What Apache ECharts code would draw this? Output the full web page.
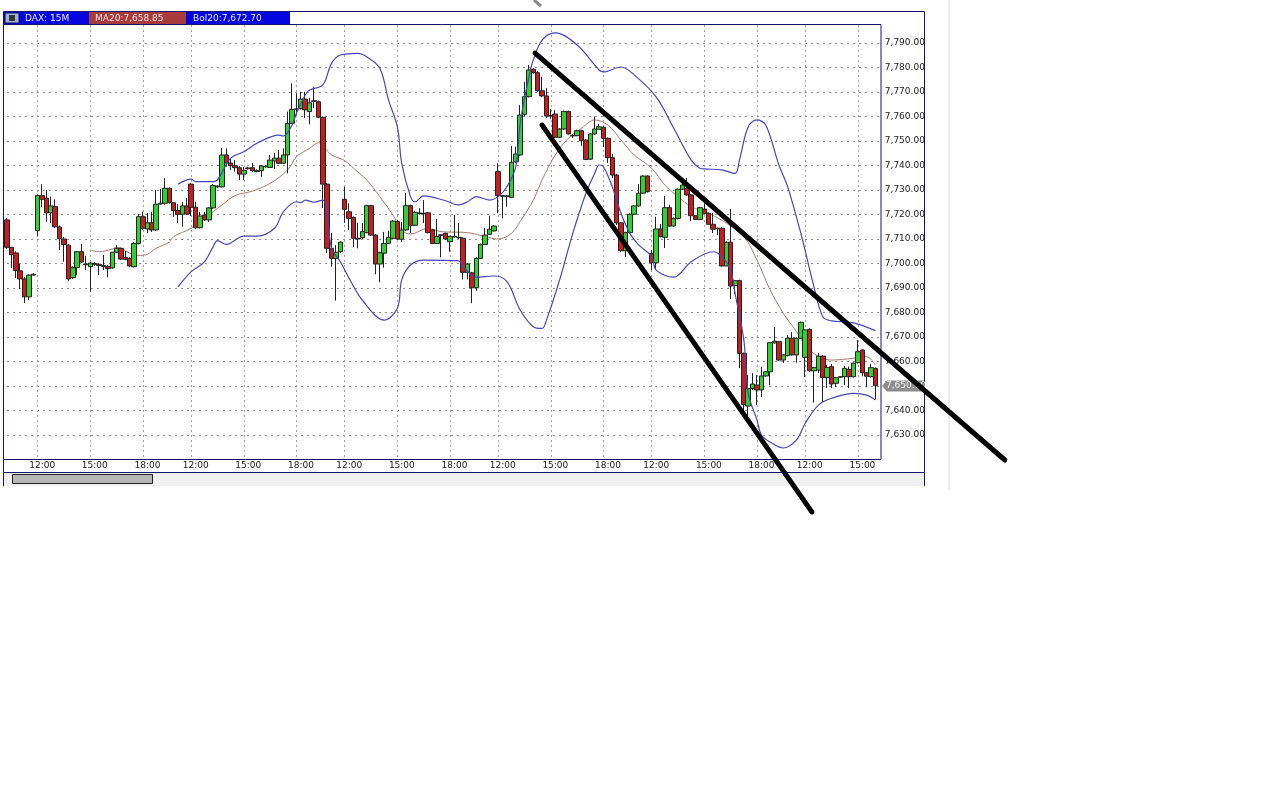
<!DOCTYPE html>
<html><head><meta charset="utf-8">
<style>html,body{margin:0;padding:0;background:#fff}#c{width:1281px;height:809px}</style>
<script src="https://cdn.jsdelivr.net/npm/echarts@6/dist/echarts.min.js"></script>
</head><body><div id="c"></div>
<script>
const opens=[7717.8,7706.6,7704.3,7697,7693.7,7686.4,7695.3,7713.4,7727.7,7726.7,7720.7,7723.2,7714.9,7710,7707.5,7694.2,7698.3,7704.8,7699.8,7698.7,
7700,7699.7,7699.2,7698.7,7698.2,7704.6,7706.2,7702.5,7702.1,7698.7,7708.2,7719.1,7714.1,7716.6,7713.7,7724.3,7724.6,7730.7,7724.8,7721.6,
7720.1,7723.5,7732.4,7723,7714.6,7719.8,7717.8,7722.7,7731.6,7731.3,7744.3,7741,7739.9,7739.1,7736.5,7739,7739.1,7737.9,7737.9,7739.5,
7739.2,7741.9,7743,7740.9,7744.3,7757.2,7763,7763.3,7767.1,7762,7766.4,7766,7759.7,7732.4,7706.2,7702.1,7704.8,7726.2,7721.1,7718.8,
7710.3,7710.5,7712.6,7723.6,7711.6,7699.8,7704.2,7708.2,7710.3,7717.1,7709.9,7713.7,7723.6,7715.6,7720.6,7720.5,7720.7,7713.7,7708.2,7711.5,
7712.3,7708.9,7711.1,7710.7,7710.3,7696.4,7696.2,7690.1,7702.1,7707.8,7711.9,7713.3,7737.5,7727.7,7727.6,7727,7741.5,7744.3,7760.9,7768.1,
7779.3,7777.9,7770.5,7768.4,7760.4,7761,7751.5,7754.9,7762,7752.3,7752.2,7754.2,7750.4,7742.6,7752.9,7754.8,7755.6,7751.1,7743.2,7736.1,
7716.6,7705.2,7712.6,7720.1,7723.5,7728.7,7735.7,7704.1,7700.3,7714.1,7710.7,7722.8,7715.3,7718.4,7730.3,7730.7,7728,7719.5,7718,7722.2,
7720.5,7716,7714.4,7714.4,7699,7708.7,7691,7693,7663.3,7641.8,7649,7650.4,7648.4,7654.1,7655.8,7667.6,7668.1,7660.6,7662.4,7669.5,
7662.7,7669.5,7661.7,7673.1,7656.2,7656.5,7662.2,7653.5,7657.9,7651.1,7653.6,7653.8,7656.8,7653.8,7659.5,7664.7,7655.4,7653.8,7657.2];
const closes=[7706.6,7703.6,7697.1,7693.7,7686.4,7695.3,7695.6,7727.7,7726.2,7720.7,7723.5,7715,7710.1,7707.7,7693.7,7698.3,7704.8,7700.6,7699.5,7700.2,
7699.7,7699.2,7698.7,7697.9,7704.6,7706.2,7701.8,7701.7,7699,7708.2,7719.1,7714.4,7716.6,7713.7,7724.2,7724.6,7730.7,7724.8,7721.6,7720.1,
7723.5,7720.2,7722.9,7714.6,7719.4,7717.8,7722.7,7731.8,7731.3,7744.3,7741,7739.9,7739.1,7736.5,7738,7738.7,7737.9,7737.6,7739.8,7739.7,
7742.2,7743,7740.9,7744.3,7757.2,7762.9,7763.1,7767.1,7762.7,7765.6,7766.2,7759.7,7732.4,7706.2,7702.1,7704.6,7708.7,7722.1,7718.4,7710.3,
7710,7713,7723.6,7711.6,7699.8,7704.4,7708.2,7710.7,7717.3,7710,7713.7,7723.6,7715.4,7720.9,7720.4,7720.3,7712.6,7708.2,7711,7711.7,
7710,7711,7710.9,7710.5,7696.4,7699.8,7690.1,7702.1,7707.8,7711.6,7714,7715.3,7727.7,7727.5,7727.4,7741.3,7744.7,7760.6,7768.1,7779,
7777.9,7770.5,7768.4,7760.2,7760.2,7751.5,7754.9,7762,7752.9,7752.1,7754.2,7750.1,7742.5,7752.9,7754.9,7755.8,7751.1,7743.2,7736.1,7716.6,
7705.2,7712.6,7720.1,7723.5,7728.7,7735.7,7729.3,7700.3,7714.1,7711,7722.8,7715.3,7718.4,7730.3,7732,7728,7719.5,7718,7722.8,7720.5,
7716,7714,7714.2,7699,7708.7,7690.8,7693,7663.3,7642.5,7649,7650.8,7648.4,7654.1,7655.8,7667.7,7668.3,7660.6,7662.7,7669.5,7662.7,
7669.5,7676,7672.9,7656.2,7657.5,7662.2,7653.5,7657.6,7650.8,7653.4,7653.8,7657.2,7653.8,7659.3,7664,7655.4,7654,7657.5,7650.1];
const lows=[7706,7698.2,7694.1,7689.6,7683.9,7685.1,7695,7711.2,7723,7717,7716.5,7714.5,7705.5,7700.7,7692.9,7693.7,7695.3,7700.2,7697.3,7688.5,
7699,7695.3,7697.3,7694.4,7697.9,7704.3,7701.4,7701.3,7698.5,7698.4,7707.8,7713.7,7712.4,7712.9,7713.2,7724.1,7724,7724.5,7719.1,7716.6,
7715,7719.8,7719.4,7714,7714.3,7717.3,7717,7722.3,7730.8,7731,7739.5,7738.2,7737.5,7734.1,7734.1,7738.3,7737.3,7737.3,7735.4,7739.1,
7739,7738.6,7740.6,7740.6,7736.8,7757,7760.6,7762.8,7759.4,7756.8,7763.5,7759.3,7722.6,7704.3,7698.7,7684.8,7704.3,7716.6,7713.7,7706.8,
7706.2,7710,7712.3,7711.2,7695.6,7692.3,7698.3,7708,7710,7709.7,7708.8,7713.2,7712.4,7715.3,7720,7716.5,7712.2,7707.9,7708,7702.5,
7709.7,7704.8,7710.5,7710,7693.5,7693.5,7683.8,7688.9,7701.8,7707.5,7711.6,7713,7720.5,7718.4,7723.2,7726.7,7741,7744,7760,7767.8,
7777.5,7770.1,7768,7759.4,7759,7751.2,7751.2,7754.6,7752.6,7751.2,7751.9,7748,7742.2,7742.2,7752.6,7754.6,7747.6,7741,7734.9,7715.7,
7704.7,7702.6,7712.3,7719.8,7723,7728.4,7729,7697.3,7697.8,7710.7,7706.3,7715,7715,7718,7730,7727.7,7717.3,7717.7,7717.7,7720.2,
7715.7,7712.4,7711.6,7698.7,7698.9,7685.5,7687.5,7657.3,7637.8,7637.3,7648.4,7642.2,7645.5,7653.8,7650.4,7667.3,7660.2,7659.4,7662.1,7662.4,
7659.5,7669.2,7653.7,7655.7,7643.2,7655.3,7643.5,7649.2,7649.2,7649.6,7653.4,7650.4,7649.2,7653.5,7659.2,7654,7649.6,7653.5,7644.5];
const highs=[7718.5,7706.6,7705,7699.8,7694.5,7695.5,7696,7728.2,7732.4,7730,7727.3,7726.2,7715.5,7710.8,7708,7698.8,7705.1,7708,7703.1,7700.6,
7700.6,7700,7703.5,7699.4,7704.7,7707.5,7706.5,7705.1,7702.5,7708.8,7720.2,7721.1,7720.6,7721.1,7730,7730.4,7734.8,7731,7725,7724.3,
7725.1,7726.7,7732.8,7725.2,7721,7721.1,7723,7732.4,7731.9,7747.1,7747,7742.8,7742.2,7739.8,7739.4,7739.5,7741,7738.4,7740.2,7740.2,
7744.3,7745.1,7746.3,7747,7762,7773.5,7769.5,7770.1,7770.1,7767.6,7772.2,7766.5,7760,7732.8,7712.5,7707.5,7709,7731.3,7724.6,7719.2,
7716.6,7716.6,7724,7724,7712,7704.8,7712.9,7713.4,7717.8,7717.8,7717,7728.8,7724,7721.5,7722.6,7725.9,7721,7714,7718.2,7712,
7712.6,7711.3,7719.8,7716.6,7710.7,7700.2,7696.6,7702.5,7708.1,7714.5,7719.5,7715.6,7740.9,7728,7727.9,7748,7747.7,7764.7,7774.2,7781,
7779.7,7778.6,7776.2,7771.6,7763.1,7762.6,7755.2,7762.4,7762.4,7752.9,7754.6,7754.6,7750.8,7753.2,7760,7757,7756,7751.5,7744.7,7736.5,
7717,7713,7720.5,7723.8,7732.4,7736,7736,7705.5,7719.1,7716.1,7727.6,7723.9,7718.8,7730.6,7734.8,7734.9,7728.3,7719.8,7723.1,7724.6,
7720.8,7720.6,7714.7,7714.8,7709,7722.2,7693.3,7693.4,7663.7,7654.5,7655.3,7654.5,7657.9,7656.1,7668,7674,7668.4,7663,7670.8,7672,
7669.8,7676.3,7673,7673.5,7657.8,7663.4,7662.5,7658.6,7659,7653.7,7654.1,7658.2,7657.9,7659.6,7668.8,7665,7655.7,7659,7657.6];

const maIdx=[19,21,24,25,26,28,30,32,34,37,38,40,42,47,49,52,56,60,64,66,69,71,74,77,79,82,85,88,90,92,96,99,105,109,112,115,117,120,122,125,128,131,134,137,140,143,147,150,153,156,160,164,168,171,174,177,180,182,185,188,193,196,198];
const maVals=[7705.5,7704.8,7705.9,7706.6,7706.2,7704.2,7703.3,7703.8,7706.2,7708.7,7711,7712.7,7714.4,7721.1,7723.9,7727.7,7729.6,7732.7,7738.2,7743.6,7747,7749.3,7744.3,7742,7738.9,7734.1,7727.3,7719.8,7713.7,7712,7714.4,7713,7712.6,7711,7710,7712.3,7717.1,7725.9,7734.1,7744.3,7751.1,7755.2,7758.6,7756.5,7750.4,7744.3,7738.9,7732,7727.3,7723.2,7720.5,7716.5,7711,7701.4,7689.2,7679.7,7672.2,7666.7,7662,7660.6,7661.3,7662,7658.6];
const upperIdx=[39,42,43,47,48,51,54,57,62,63,65,66,68,69,72,74,76,80,82,85,87,89,90,92,93,95,100,103,105,107,110,112,114,116,117,119,120,122,125,130,135,136,140,143,148,152,156,158,159,163,166,167,169,171,173,176,178,181,184,186,188,193,198];
const upperVals=[7732.4,7734.4,7733.4,7733.4,7734.1,7743,7745.6,7749.1,7752.4,7752,7756.5,7761.4,7768.8,7770.8,7772.9,7781.7,7785.1,7785.8,7784.4,7779.7,7766.7,7755.8,7740.9,7727.3,7725.2,7727.6,7725.6,7723.9,7725.2,7727.3,7725.9,7727.3,7731.3,7739.5,7757.2,7776.3,7783.1,7791.2,7794.1,7789.2,7779,7778.2,7780.2,7777,7768,7755.3,7742.2,7738.9,7738.6,7738.2,7736.8,7742.2,7755.8,7758.6,7756.5,7740.2,7731.3,7712.3,7690.5,7678.3,7676.6,7675.8,7672.6];
const lowerIdx=[39,42,45,47,48,50,54,57,61,63,66,67,68,70,72,73,74,76,78,81,86,89,90,92,95,103,104,107,111,114,117,120,122,123,126,129,132,134,135,136,138,140,142,144,147,148,152,156,161,163,165,166,168,169,171,172,174,177,180,182,185,188,193,196,198];
const lowerVals=[7690.5,7696.7,7700.7,7706.9,7709.3,7707.8,7711.2,7711.2,7714.4,7721.1,7725.2,7724.8,7725.9,7725,7725.9,7720.5,7706.2,7700.7,7694,7685.1,7676.9,7681.7,7693.3,7699.4,7701.4,7701.1,7698.7,7694.4,7694.9,7692.6,7681,7674.2,7673.5,7676.9,7693.3,7712.3,7728.7,7736.8,7740.2,7739.5,7731.3,7720.5,7712.3,7707.6,7702.8,7697.3,7694.4,7700.7,7704.8,7702.8,7697.3,7687.8,7668.8,7647,7636.1,7630,7627.1,7624.7,7628,7634.8,7642.2,7645,7647,7646.3,7644.3];

const xTickIdx=[7,19,31,42,54,66,77,89,101,112,124,136,147,159,171,182,194];
const xTickLabels=["12:00","15:00","18:00","12:00","15:00","18:00","12:00","15:00","18:00","12:00","15:00","18:00","12:00","15:00","18:00","12:00","15:00"];
const trendUpperIdx=[120.4,227.5], trendUpperPrice=[7785.9,7619.8];
const trendLowerIdx=[122,183.5],  trendLowerPrice=[7756.5,7598.6];
const headerTexts=["DAX: 15M","MA20:7,658.85","Bol20:7,672.70"];
const lastPriceText="7,650.10";

const COUNT=200;
const categories=Array.from({length:COUNT},(_,i)=>{const k=xTickIdx.indexOf(i);return k>=0?xTickLabels[k]:'';});
const ohlc=opens.map((o,i)=>[o,closes[i],lows[i],highs[i]]);
const zip=(a,b)=>a.map((v,i)=>[v,b[i]]);
const NAVY='#14146e', FONT='"DejaVu Sans"';
const isTick=(i)=>xTickIdx.includes(i);
const rect=(x,y,w,h,fill,stroke,z)=>({type:'rect',shape:{x,y,width:w,height:h},style:{fill:fill||'none',stroke:stroke||null,lineWidth:1},silent:true,z:z||0});
const seg=(x1,y1,x2,y2,c)=>({type:'line',shape:{x1,y1,x2,y2},style:{stroke:c,lineWidth:1},silent:true});
const txt=(x,y,t,fill,size)=>({type:'text',x,y,style:{text:t,fill,font:`${size||10}px ${FONT}`,textVerticalAlign:'middle'},silent:true,z:2});

const chart=echarts.init(document.getElementById('c'),null,{renderer:'canvas'});
chart.setOption({
 animation:false,backgroundColor:'#fff',
 grid:[{left:7,top:25,width:872.8,height:434.5,containLabel:false},{left:0,top:0,width:1281,height:809}],
 xAxis:[{type:'category',data:categories,boundaryGap:false,gridIndex:0,
   axisLine:{show:false},axisTick:{show:false},
   axisLabel:{interval:(i)=>isTick(i),margin:2,fontFamily:FONT,fontSize:9,color:'#222',padding:[0,0,0,9],hideOverlap:false},
   splitLine:{show:true,interval:(i)=>isTick(i),lineStyle:{color:'#a0a0a0',width:1,type:[2,3]}}},
  {type:'value',gridIndex:1,show:false,min:-1.596,max:290.47}],
 yAxis:[{type:'value',position:'right',gridIndex:0,min:7620,max:7797.35,interval:10,scale:true,
   axisLine:{show:false},axisTick:{show:false},
   axisLabel:{showMinLabel:false,showMaxLabel:false,margin:5,fontFamily:FONT,fontSize:9,color:'#222',padding:[2,0,0,0],
     formatter:(v)=>v.toLocaleString('en-US',{minimumFractionDigits:2,maximumFractionDigits:2})},
   splitLine:{show:true,showMinLine:false,showMaxLine:false,lineStyle:{color:'#909090',width:1,type:[2,4]}}},
  {type:'value',gridIndex:1,show:false,min:7477.35,max:7807.55}],
 series:[
  {name:'MA20',type:'line',xAxisIndex:0,yAxisIndex:0,data:zip(maIdx,maVals),showSymbol:false,smooth:0.35,lineStyle:{color:'#a87870',width:1},z:2,silent:true},
  {name:'BolUpper',type:'line',xAxisIndex:0,yAxisIndex:0,data:zip(upperIdx,upperVals),showSymbol:false,smooth:0.35,lineStyle:{color:'#4646bc',width:1.2},z:4,silent:true},
  {name:'BolLower',type:'line',xAxisIndex:0,yAxisIndex:0,data:zip(lowerIdx,lowerVals),showSymbol:false,smooth:0.35,lineStyle:{color:'#4646bc',width:1.2},z:4,silent:true},
  {name:'DAX',type:'candlestick',xAxisIndex:0,yAxisIndex:0,data:ohlc,barWidth:5,clip:false,z:3,silent:true,
   itemStyle:{color:'#2fd02f',color0:'#c41e1e',borderColor:'#222',borderColor0:'#222',borderWidth:1}},
  {name:'TrendUpper',type:'line',xAxisIndex:1,yAxisIndex:1,data:zip(trendUpperIdx,trendUpperPrice),showSymbol:false,clip:false,lineStyle:{color:'#000',width:5,cap:'round'},z:10,silent:true},
  {name:'TrendLower',type:'line',xAxisIndex:1,yAxisIndex:1,data:zip(trendLowerIdx,trendLowerPrice),showSymbol:false,clip:false,lineStyle:{color:'#000',width:5,cap:'round'},z:10,silent:true}
 ],
 graphic:{elements:[
  rect(948,0,2,490,'#ececec'),
  {type:'line',shape:{x1:534,y1:0,x2:541,y2:6},style:{stroke:'#8a8a8a',lineWidth:3},silent:true},
  rect(4,473,920,13,'#f0f0f0'),
  seg(3.5,11.5,924.5,11.5,NAVY),
  seg(3.5,11.5,3.5,486,NAVY),
  seg(924.5,11.5,924.5,486,NAVY),
  rect(4,12,286,12,'#0505e0'),
  rect(5,13,14,10,'#9db4d8','#0a0a60'),
  rect(9,15,6,6,'#333'),
  rect(89,12,97,12,'#a83c3c'),
  txt(25,18.5,headerTexts[0],'#e8e8ff',9),
  txt(95,18.5,headerTexts[1],'#f4e4e4',9),
  txt(193,18.5,headerTexts[2],'#e8e8ff',9),
  rect(3.5,24.5,877.5,435,'none',NAVY),
  seg(3.5,472.5,924.5,472.5,NAVY),
  rect(12.5,474.5,140,9,'#b8b8b8','#222'),
  {type:'polygon',shape:{points:[[882,386],[887,380.5],[924,380.5],[924,391.5],[887,391.5]]},style:{fill:'#8c8c8c'},silent:true,z:1},
  txt(886,386,lastPriceText,'#f4f4f4',9)
 ]}
});
</script></body></html>
